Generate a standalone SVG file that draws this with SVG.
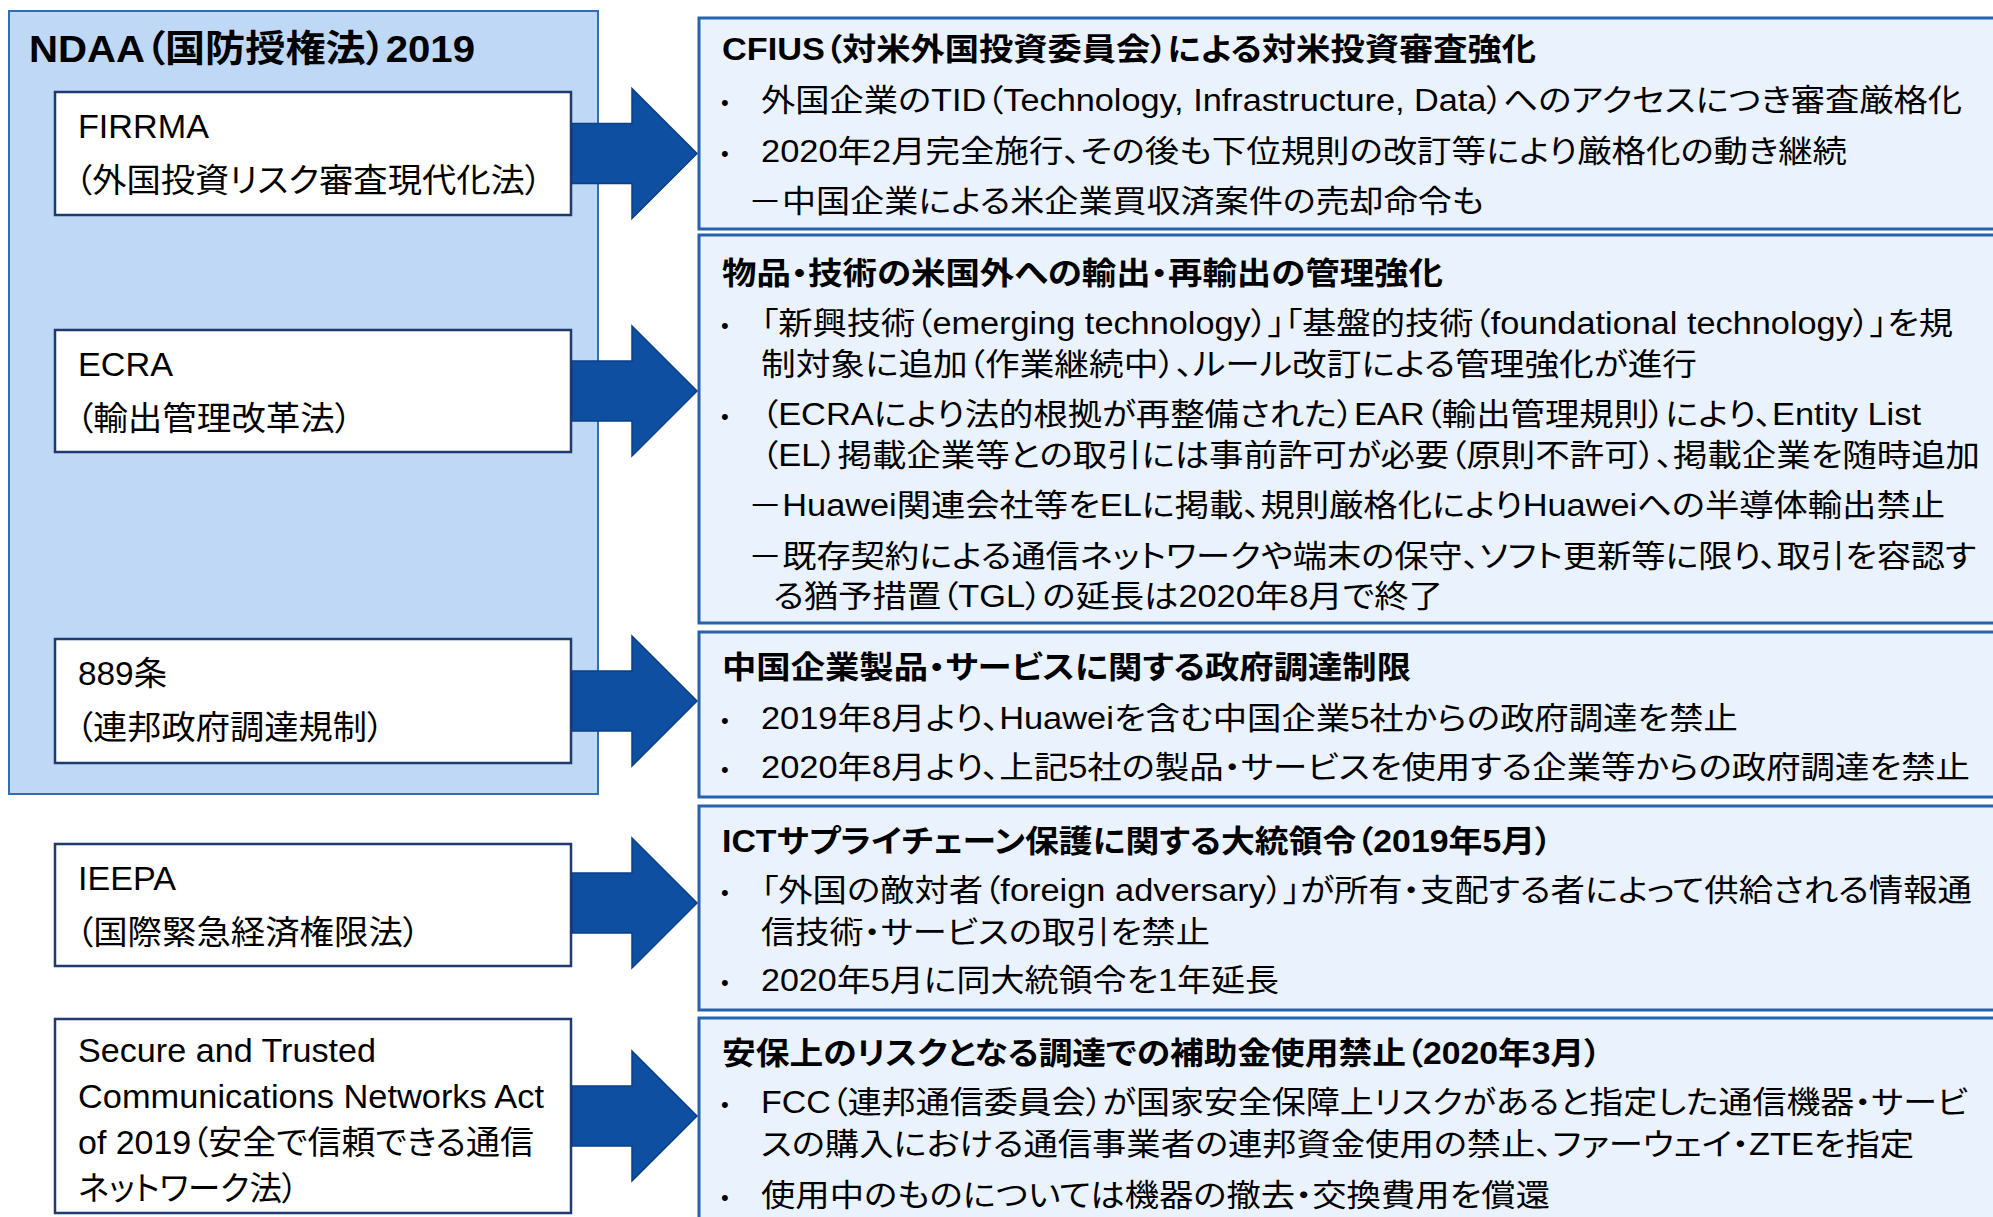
<svg xmlns="http://www.w3.org/2000/svg" width="1993" height="1217" viewBox="0 0 1993 1217">
<style>
text{font-family:"Liberation Sans","Noto Sans CJK JP",sans-serif;font-feature-settings:"palt";fill:#000}
.h{font-size:31px;font-weight:bold}
.b{font-size:31px}
.l{font-size:33px}
.tt{font-size:37px;font-weight:bold}
.bu{font-size:22px}
.grp{fill:#BFD8F6;stroke:#2F6DB5;stroke-width:2}
.lb{fill:#FFFFFF;stroke:#1F3A6E;stroke-width:2.5}
.rb{fill:#EAF2FD;stroke:#2563AE;stroke-width:3}
.ar{fill:#0E4FA1;stroke:#0B3F86;stroke-width:1.5}
</style>
<rect width="1993" height="1217" fill="#FFFFFF"/>

<g id="ndaa">
<rect class="grp" x="9" y="11" width="589" height="783"/>
<text class="tt" x="29" y="62" textLength="446" lengthAdjust="spacingAndGlyphs">NDAA（国防授権法）2019</text>
</g>

<g id="cfius">
<rect class="rb" x="699" y="18" width="1320" height="211"/>
<text class="h" x="722" y="60" textLength="814" lengthAdjust="spacingAndGlyphs">CFIUS（対米外国投資委員会）による対米投資審査強化</text>
<text class="bu" x="721" y="110">•</text>
<text class="b" x="761" y="111" textLength="1201" lengthAdjust="spacingAndGlyphs">外国企業のTID（Technology, Infrastructure, Data）へのアクセスにつき審査厳格化</text>
<text class="bu" x="721" y="161">•</text>
<text class="b" x="761" y="162" textLength="1086" lengthAdjust="spacingAndGlyphs">2020年2月完全施行、その後も下位規則の改訂等により厳格化の動き継続</text>
<text class="b" x="748" y="212" textLength="736" lengthAdjust="spacingAndGlyphs">－中国企業による米企業買収済案件の売却命令も</text>
</g>

<g id="export-control">
<rect class="rb" x="699" y="235" width="1320" height="388"/>
<text class="h" x="722" y="284" textLength="721" lengthAdjust="spacingAndGlyphs">物品・技術の米国外への輸出・再輸出の管理強化</text>
<text class="bu" x="721" y="333">•</text>
<text class="b" x="761" y="334" textLength="1192" lengthAdjust="spacingAndGlyphs">「新興技術（emerging technology）」「基盤的技術（foundational technology）」を規</text>
<text class="b" x="761" y="375" textLength="936" lengthAdjust="spacingAndGlyphs">制対象に追加（作業継続中）、ルール改訂による管理強化が進行</text>
<text class="bu" x="721" y="424">•</text>
<text class="b" x="761" y="425" textLength="1160" lengthAdjust="spacingAndGlyphs">（ECRAにより法的根拠が再整備された）EAR（輸出管理規則）により、Entity List</text>
<text class="b" x="761" y="466" textLength="1219" lengthAdjust="spacingAndGlyphs">（EL）掲載企業等との取引には事前許可が必要（原則不許可）、掲載企業を随時追加</text>
<text class="b" x="748" y="516" textLength="1197" lengthAdjust="spacingAndGlyphs">－Huawei関連会社等をELに掲載、規則厳格化によりHuaweiへの半導体輸出禁止</text>
<text class="b" x="748" y="567" textLength="1228" lengthAdjust="spacingAndGlyphs">－既存契約による通信ネットワークや端末の保守、ソフト更新等に限り、取引を容認す</text>
<text class="b" x="773" y="607" textLength="670" lengthAdjust="spacingAndGlyphs">る猶予措置（TGL）の延長は2020年8月で終了</text>
</g>

<g id="procurement">
<rect class="rb" x="699" y="632" width="1320" height="165"/>
<text class="h" x="722" y="678" textLength="689" lengthAdjust="spacingAndGlyphs">中国企業製品・サービスに関する政府調達制限</text>
<text class="bu" x="721" y="728">•</text>
<text class="b" x="761" y="729" textLength="977" lengthAdjust="spacingAndGlyphs">2019年8月より、Huaweiを含む中国企業5社からの政府調達を禁止</text>
<text class="bu" x="721" y="777">•</text>
<text class="b" x="761" y="778" textLength="1209" lengthAdjust="spacingAndGlyphs">2020年8月より、上記5社の製品・サービスを使用する企業等からの政府調達を禁止</text>
</g>

<g id="ict-order">
<rect class="rb" x="699" y="806" width="1320" height="204"/>
<text class="h" x="722" y="852" textLength="830" lengthAdjust="spacingAndGlyphs">ICTサプライチェーン保護に関する大統領令（2019年5月）</text>
<text class="bu" x="721" y="900">•</text>
<text class="b" x="761" y="901" textLength="1211" lengthAdjust="spacingAndGlyphs">「外国の敵対者（foreign adversary）」が所有・支配する者によって供給される情報通</text>
<text class="b" x="761" y="943" textLength="449" lengthAdjust="spacingAndGlyphs">信技術・サービスの取引を禁止</text>
<text class="bu" x="721" y="990">•</text>
<text class="b" x="761" y="991" textLength="518" lengthAdjust="spacingAndGlyphs">2020年5月に同大統領令を1年延長</text>
</g>

<g id="subsidy-ban">
<rect class="rb" x="699" y="1018" width="1320" height="220"/>
<text class="h" x="722" y="1064" textLength="879" lengthAdjust="spacingAndGlyphs">安保上のリスクとなる調達での補助金使用禁止（2020年3月）</text>
<text class="bu" x="721" y="1112">•</text>
<text class="b" x="761" y="1113" textLength="1207" lengthAdjust="spacingAndGlyphs">FCC（連邦通信委員会）が国家安全保障上リスクがあると指定した通信機器・サービ</text>
<text class="b" x="761" y="1155" textLength="1153" lengthAdjust="spacingAndGlyphs">スの購入における通信事業者の連邦資金使用の禁止、ファーウェイ・ZTEを指定</text>
<text class="bu" x="721" y="1205">•</text>
<text class="b" x="761" y="1206" textLength="789" lengthAdjust="spacingAndGlyphs">使用中のものについては機器の撤去・交換費用を償還</text>
</g>

<g id="firrma">
<rect class="lb" x="55" y="92" width="516" height="123"/>
<text class="l" x="78" y="138" textLength="131" lengthAdjust="spacingAndGlyphs">FIRRMA</text>
<text class="l" x="75" y="192" textLength="467" lengthAdjust="spacingAndGlyphs">（外国投資リスク審査現代化法）</text>
</g>

<g id="ecra">
<rect class="lb" x="55" y="330" width="516" height="122"/>
<text class="l" x="78" y="376" textLength="95" lengthAdjust="spacingAndGlyphs">ECRA</text>
<text class="l" x="76" y="430" textLength="276" lengthAdjust="spacingAndGlyphs">（輸出管理改革法）</text>
</g>

<g id="sec889">
<rect class="lb" x="55" y="639" width="516" height="124"/>
<text class="l" x="78" y="685" textLength="89" lengthAdjust="spacingAndGlyphs">889条</text>
<text class="l" x="76" y="739" textLength="308" lengthAdjust="spacingAndGlyphs">（連邦政府調達規制）</text>
</g>

<g id="ieepa">
<rect class="lb" x="55" y="844" width="516" height="122"/>
<text class="l" x="78" y="890" textLength="98" lengthAdjust="spacingAndGlyphs">IEEPA</text>
<text class="l" x="76" y="944" textLength="344" lengthAdjust="spacingAndGlyphs">（国際緊急経済権限法）</text>
</g>

<g id="stcna">
<rect class="lb" x="55" y="1019" width="516" height="194"/>
<text class="l" x="78" y="1062" textLength="298" lengthAdjust="spacingAndGlyphs">Secure and Trusted</text>
<text class="l" x="78" y="1108" textLength="466" lengthAdjust="spacingAndGlyphs">Communications Networks Act</text>
<text class="l" x="78" y="1154" textLength="456" lengthAdjust="spacingAndGlyphs">of 2019（安全で信頼できる通信</text>
<text class="l" x="78" y="1200" textLength="220" lengthAdjust="spacingAndGlyphs">ネットワーク法）</text>
</g>

<g id="connectors">
<path class="ar" d="M572,123.5 H632 V88.5 L697,153.5 L632,218.5 V183.5 H572 Z"/>
<path class="ar" d="M572,361 H632 V326 L697,391 L632,456 V421 H572 Z"/>
<path class="ar" d="M572,671 H632 V636 L697,701 L632,766 V731 H572 Z"/>
<path class="ar" d="M572,873 H632 V838 L697,903 L632,968 V933 H572 Z"/>
<path class="ar" d="M572,1086 H632 V1051 L697,1116 L632,1181 V1146 H572 Z"/>
</g>
</svg>
